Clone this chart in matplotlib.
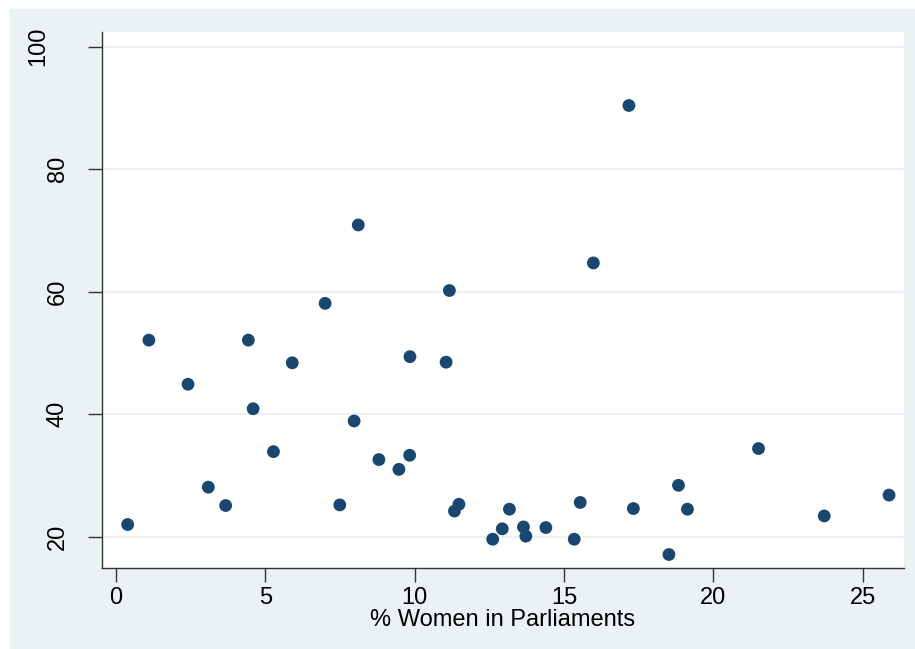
import matplotlib.pyplot as plt
import matplotlib.transforms as mtransforms
from matplotlib.patches import Rectangle

plt.rcParams['font.family'] = ['Liberation Sans', 'DejaVu Sans']

# % women in parliaments vs. y value
women_pct = [0.39, 1.10, 2.41, 3.09, 3.67, 4.43, 4.59, 5.27, 5.90, 7.49,
             7.97, 8.80, 9.47, 9.83, 9.84, 11.05, 11.33, 11.48, 13.17, 12.93,
             12.61, 13.64, 13.72, 14.39, 15.34, 15.54, 17.32, 18.51, 18.83, 19.13,
             21.51, 23.71, 25.88, 7.00, 8.11, 11.16, 17.17, 15.98]
y_vals = [22.0, 52.1, 44.9, 28.1, 25.1, 52.1, 40.9, 33.9, 48.4, 25.2,
          38.9, 32.6, 31.0, 33.3, 49.4, 48.5, 24.2, 25.3, 24.5, 21.3,
          19.6, 21.6, 20.1, 21.5, 19.6, 25.6, 24.6, 17.1, 28.4, 24.5,
          34.4, 23.4, 26.8, 58.1, 70.9, 60.2, 90.4, 64.7]

x_ticks = [0, 5, 10, 15, 20, 25]
y_ticks = [20, 40, 60, 80, 100]

bg = '#EAF2F3'
navy = '#1A476F'

fig = plt.figure(figsize=(9.15, 6.49), dpi=100, facecolor='white')
fig.patches.append(Rectangle((10 / 915, 0), 1 - 10 / 915, 640 / 649,
                             transform=fig.transFigure, color=bg, zorder=-10))

ax = fig.add_axes([102 / 915, 81 / 649, 802 / 915, 536 / 649])
ax.set_zorder(1)
ax.set_facecolor('white')
ax.scatter(women_pct, y_vals, s=85, color=navy, edgecolors='none', zorder=3)

ax.set_xlim(-0.47, 26.38)
ax.set_ylim(14.9, 102.4)
ax.set_xticks(x_ticks)
ax.set_yticks(y_ticks)
ax.yaxis.grid(True, color=bg, linewidth=1.5)
ax.set_axisbelow(True)

for s in ['top', 'right']:
    ax.spines[s].set_visible(False)
for s in ['left', 'bottom']:
    ax.spines[s].set_color('#333333')
    ax.spines[s].set_linewidth(1)

ax.tick_params(axis='both', length=10, width=1, color='#333333', labelsize=17)
ax.tick_params(axis='x', pad=4)
ax.tick_params(axis='y', pad=14)
for lab in ax.get_yticklabels():
    lab.set_rotation(90)
    lab.set_va('center')
# the top label sits further out in the original
top = ax.get_yticklabels()[-1]
top.set_transform(top.get_transform()
                  + mtransforms.ScaledTranslation(-0.19, 0, fig.dpi_scale_trans))

ax.set_xlabel('% Women in Parliaments', fontsize=17, labelpad=0)

fig.savefig('out.png', dpi=100, facecolor=fig.get_facecolor())
